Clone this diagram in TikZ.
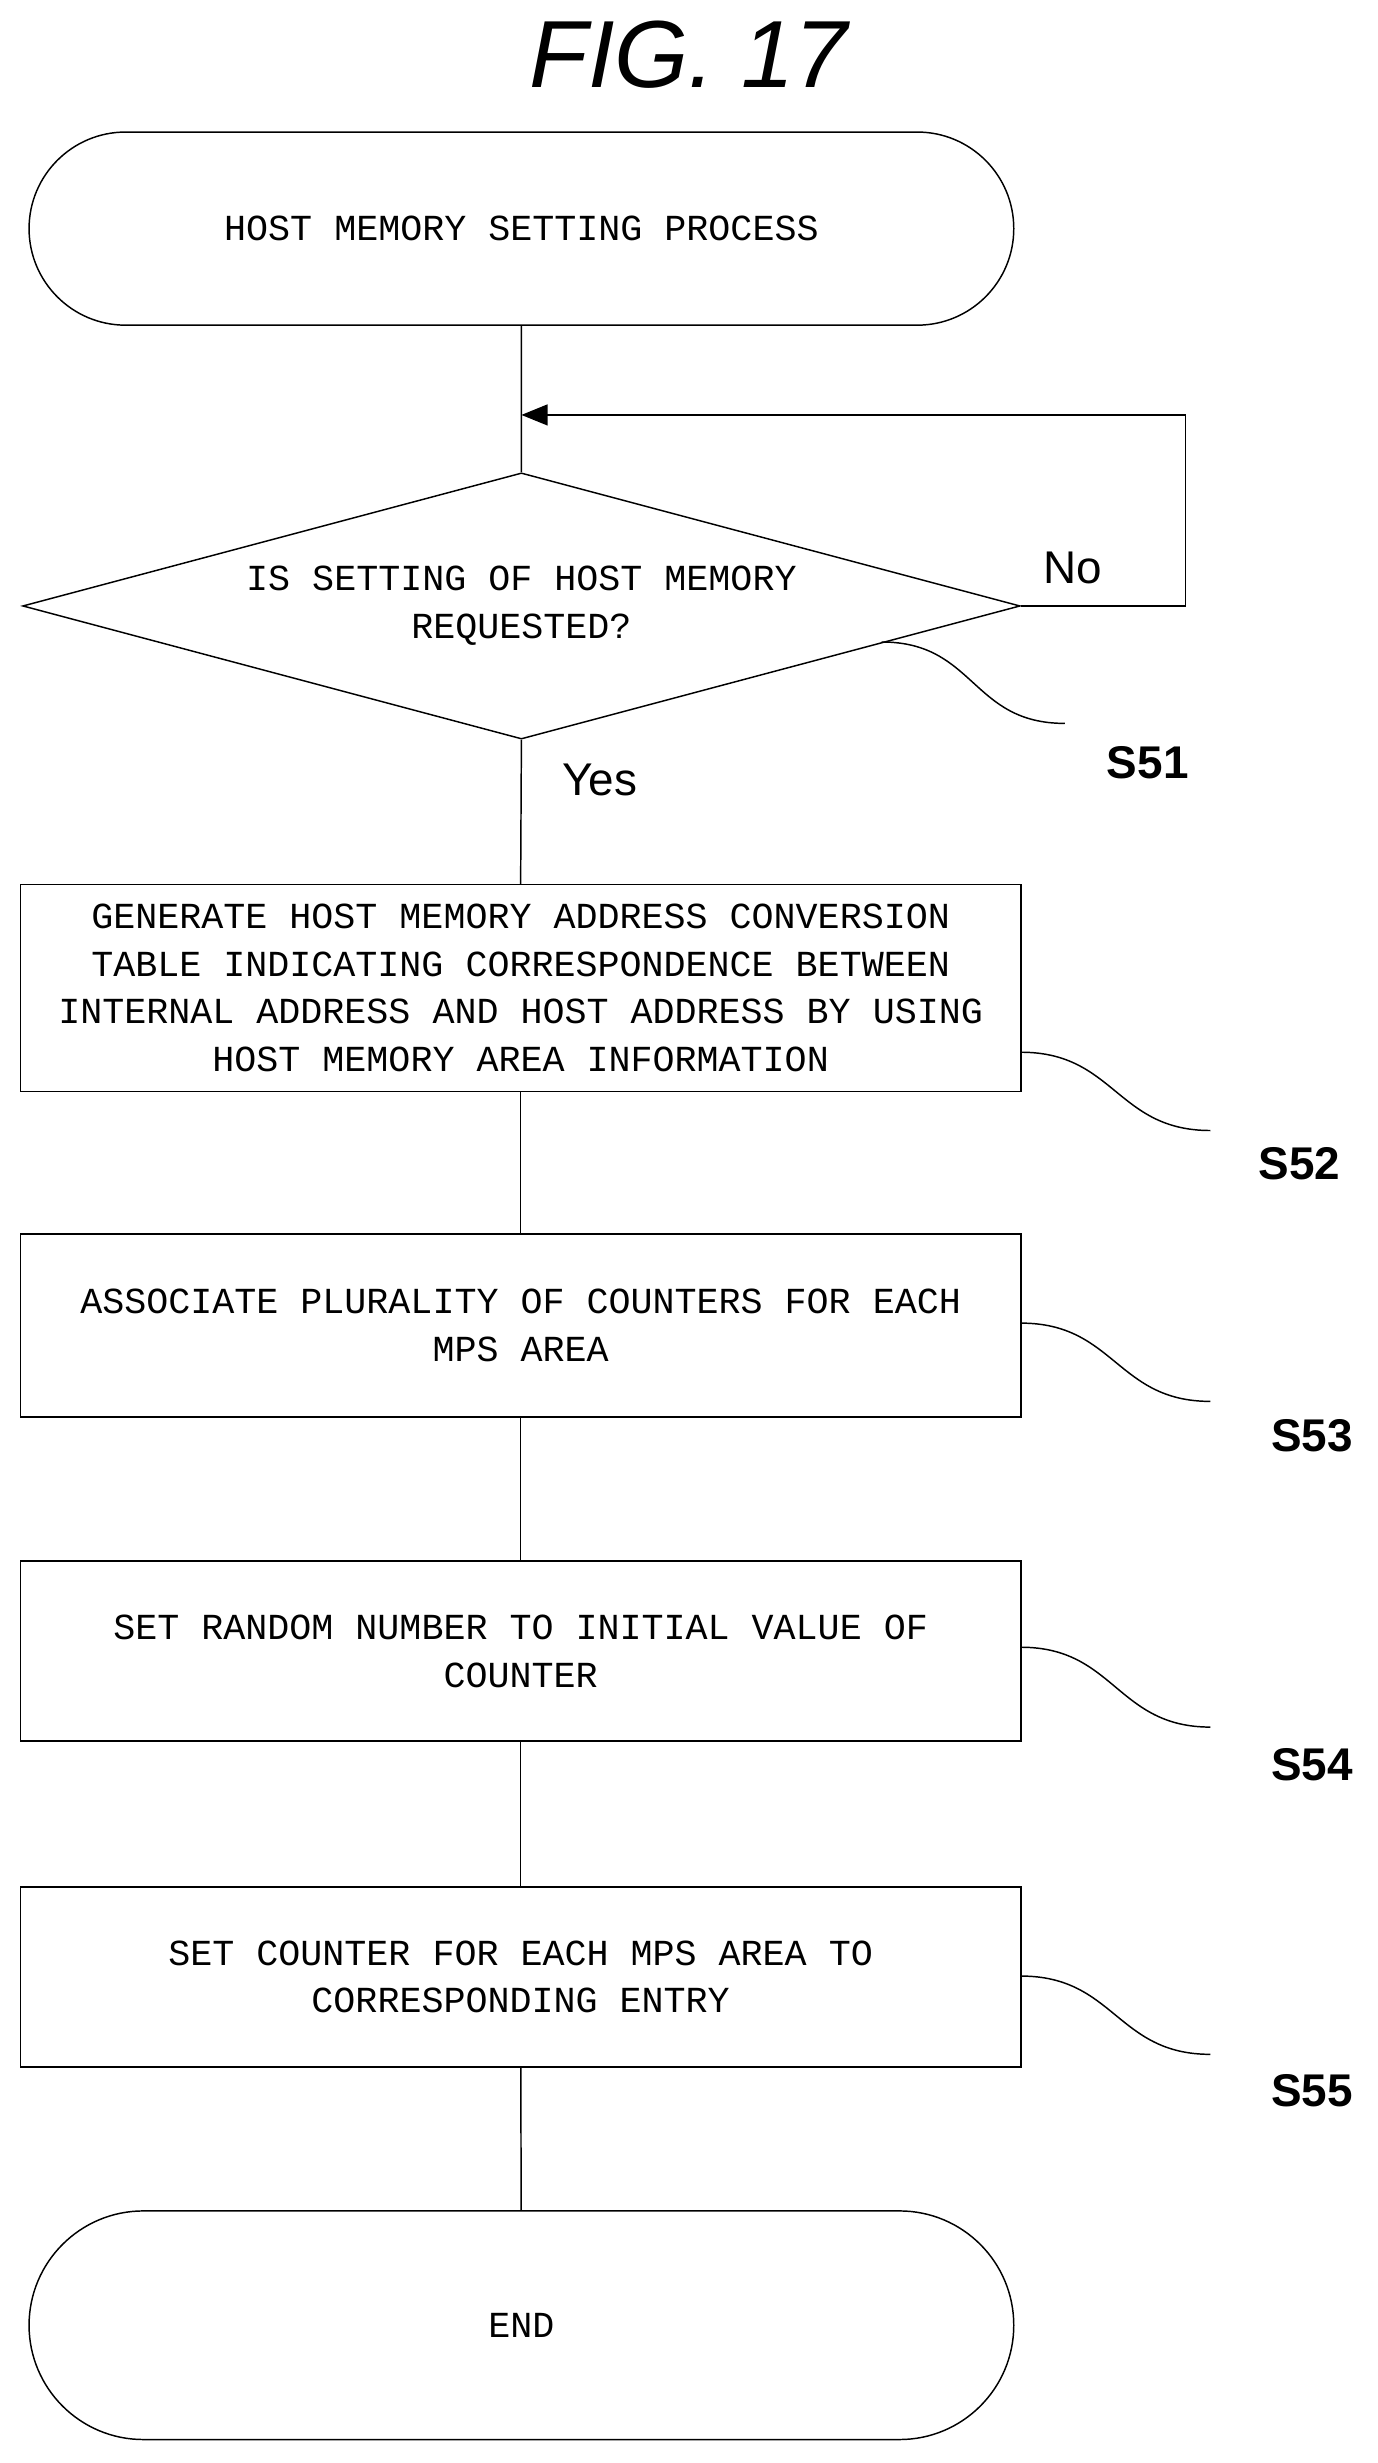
\documentclass[tikz,border=0pt]{standalone}
\usepackage{fontspec}
\setmainfont{Liberation Sans}
\newfontfamily\stepfont[WordSpace={1,0,0}]{Liberation Mono}
\usetikzlibrary{shapes.geometric,shapes.misc,arrows.meta}
\begin{document}
\begin{tikzpicture}[x=0.03cm, y=-0.03cm,
        terminal/.style={rounded rectangle, draw, thick, minimum width=19.1cm,
                     font=\stepfont\fontsize{20}{26}\selectfont},
        process/.style={rectangle, draw, thick, minimum width=19.17cm,
                     align=center, font=\stepfont\fontsize{20}{26}\selectfont},
        decision/.style={diamond, draw, thick, aspect=3.75, inner sep=0pt,
                     minimum width=19.11cm, minimum height=5.1cm, align=center,
                     font=\stepfont\fontsize{20}{26}\selectfont},
        tag/.style={font=\fontsize{25}{30}\selectfont\bfseries},
        line/.style={draw, thick},
        arrow/.style={draw, thick, -{Triangle[length=0.5cm,width=0.4cm]}},
        squiggle/.style={draw, thick}
    ]
    \useasboundingbox (0,0) rectangle (880,1573);

    % title
    \node[font=\fontsize{52}{60}\selectfont\itshape] (title) at (440,35) {FIG. 17};

    % flow
    \node[terminal, minimum height=3.7cm] (start) at (333,146) {HOST MEMORY SETTING PROCESS};
    \node[decision] (s51) at (333,387) {IS SETTING OF HOST MEMORY\\REQUESTED?};
    \node[process, minimum height=3.96cm] (s52) at (332.5,631) {GENERATE HOST MEMORY ADDRESS CONVERSION\\TABLE INDICATING CORRESPONDENCE BETWEEN\\INTERNAL ADDRESS AND HOST ADDRESS BY USING\\HOST MEMORY AREA INFORMATION};
    \node[process, minimum height=3.51cm] (s53) at (332.5,846.5) {ASSOCIATE PLURALITY OF COUNTERS FOR EACH\\MPS AREA};
    \node[process, minimum height=3.45cm] (s54) at (332.5,1054.5) {SET RANDOM NUMBER TO INITIAL VALUE OF\\COUNTER};
    \node[process, minimum height=3.45cm] (s55) at (332.5,1262.5) {SET COUNTER FOR EACH MPS AREA TO\\CORRESPONDING ENTRY};
    \node[terminal, minimum height=4.38cm] (end) at (333,1485) {END};

    % connectors
    \coordinate (merge) at (333,265);
    \coordinate (loop) at (757,265);
    \path[line] (start) -- (s51.north);
    \path[arrow] (s51.east) -- (757,387) -- (loop) -- (merge);
    \path[line] (s51.south) -- (s52.north);
    \path[line] (s52) -- (s53);
    \path[line] (s53) -- (s54);
    \path[line] (s54) -- (s55);
    \path[line] (s55) -- (end);

    % branch labels
    \node[font=\fontsize{25}{30}\selectfont] (no) at (685,363) {No};
    \node[font=\fontsize{25}{30}\selectfont] (yes) at (383,498) {Yes};

    % step labels
    \node[tag] (t51) at (733,487) {S51};
    \node[tag] (t52) at (830,743) {S52};
    \node[tag] (t53) at (838,917) {S53};
    \node[tag] (t54) at (838,1127) {S54};
    \node[tag] (t55) at (838,1335) {S55};
    \coordinate (q51a) at (563,410); \coordinate (q51b) at (680,462);
    \coordinate (q52a) at (652,672); \coordinate (q52b) at (773,722);
    \coordinate (q53a) at (652,845); \coordinate (q53b) at (773,895);
    \coordinate (q54a) at (652,1052); \coordinate (q54b) at (773,1103);
    \coordinate (q55a) at (652,1262); \coordinate (q55b) at (773,1312);
    \foreach \q in {51,52,53,54,55}
        \path[squiggle] (q\q a) .. controls +(60,0) and +(-60,0) .. (q\q b);

\end{tikzpicture}
\end{document}
